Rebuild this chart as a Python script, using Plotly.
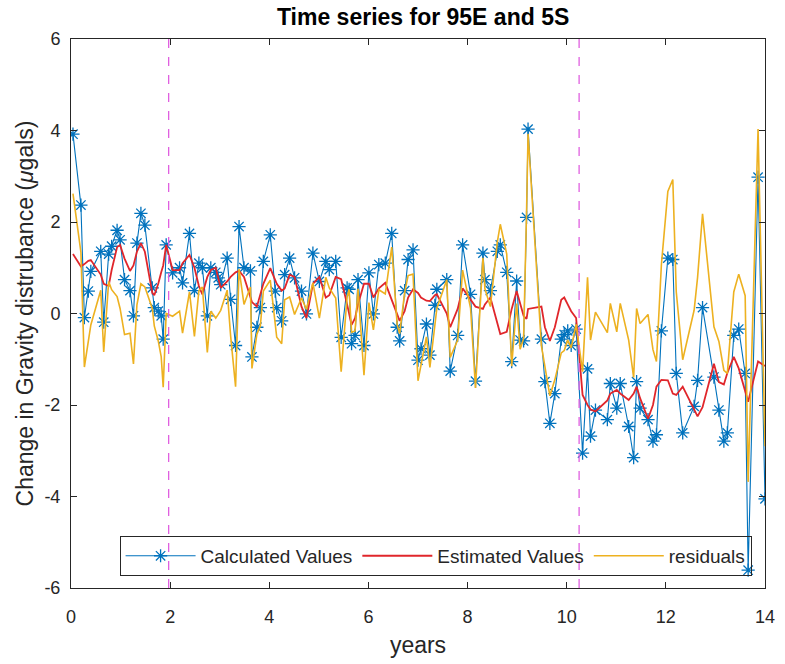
import plotly.graph_objects as go

# ---- data ----
years = [0.04, 0.20, 0.27, 0.35, 0.40, 0.60, 0.66, 0.76, 0.82, 0.93, 0.99, 1.08, 1.19, 1.26, 1.33,
         1.41, 1.49, 1.64, 1.68, 1.76, 1.82, 1.86, 1.92, 2.05, 2.19, 2.25, 2.39, 2.49, 2.58, 2.65,
         2.75, 2.82, 2.92, 2.97, 3.02, 3.15, 3.22, 3.32, 3.39, 3.49, 3.62, 3.65, 3.75, 3.82, 3.88,
         4.02, 4.12, 4.15, 4.25, 4.31, 4.41, 4.51, 4.65, 4.75, 4.88, 5.01, 5.14, 5.21, 5.34, 5.45,
         5.57, 5.61, 5.66, 5.73, 5.79, 5.91, 6.01, 6.10, 6.21, 6.34, 6.47, 6.58, 6.63, 6.73, 6.80,
         6.90, 7.00, 7.06, 7.17, 7.24, 7.34, 7.38, 7.58, 7.65, 7.80, 7.90, 8.06, 8.16, 8.31, 8.35,
         8.46, 8.60, 8.66, 8.79, 8.89, 8.99, 9.06, 9.13, 9.19, 9.22, 9.49, 9.56, 9.66, 9.76, 9.89,
         9.95, 10.02, 10.09, 10.19, 10.32, 10.42, 10.48, 10.58, 10.82, 10.88, 11.01, 11.08, 11.25, 11.35, 11.41,
         11.48, 11.64, 11.74, 11.81, 11.91, 12.04, 12.14, 12.21, 12.34, 12.57, 12.64, 12.74, 12.97, 13.07, 13.17,
         13.24, 13.37, 13.47, 13.60, 13.66, 13.86, 14.00]

calculated = [3.92, 2.37, -0.09, 0.49, 0.92, 1.36, -0.19, 1.30, 1.47, 1.82, 1.61, 0.74, 0.50, -0.05, 1.54,
              2.19, 1.93, 0.56, 0.13, 0.05, -0.05, -0.56, 1.50, 0.89, 1.00, 0.67, 1.75, 0.50, 1.10, 1.00,
              -0.05, 1.00, 0.90, 0.78, 0.63, 1.21, 0.31, -0.70, 1.90, 1.00, 0.93, -0.95, -0.30, 0.13, 1.14,
              1.72, 0.49, 0.13, -0.16, 0.85, 1.21, 0.78, 0.49, -0.01, 1.32, 0.70, 1.14, 0.96, 1.14, -0.52,
              0.56, 0.53, -0.66, -0.48, 0.74, -0.70, 0.89, -0.01, 1.07, 1.10, 1.75, -0.30, -0.60, 0.50, 1.18,
              1.39, -1.02, -0.77, -0.23, -0.91, 0.18, 0.53, 0.74, -1.26, -0.48, 1.50, 0.42, -1.48, 1.32, 0.74,
              0.50, 1.36, 1.50, 0.90, -1.05, 0.71, -0.58, -0.60, 2.10, 4.03, -0.56, -1.49, -2.40, -1.75, -0.56,
              -0.46, -0.38, -0.70, -0.34, -3.05, -1.21, -2.68, -2.11, -2.32, -1.53, -2.07, -1.53, -2.47, -3.15, -1.49,
              -2.07, -2.32, -2.79, -2.65, -0.38, 1.21, 1.18, -1.31, -2.61, -2.03, -1.46, 0.13, -1.39, -2.11, -2.79,
              -2.61, -0.48, -0.34, -1.31, -5.61, 2.98, -4.05]

estimated = [1.30, 1.03, 1.08, 1.15, 1.17, 0.85, 0.65, 0.60, 0.95, 1.45, 1.50, 1.20, 0.93, 1.05, 1.35,
             1.54, 1.35, 0.45, 0.40, 0.65, 0.90, 1.05, 1.50, 0.95, 0.95, 1.10, 1.28, 1.00, 0.60, 0.42,
             0.80, 0.95, 1.00, 0.80, 0.56, 0.70, 0.80, 0.90, 0.93, 0.80, 0.35, 0.25, 0.15, 0.40, 0.65,
             0.99, 0.75, 0.65, 0.50, 0.55, 0.85, 0.80, 0.15, -0.10, 0.65, 0.80, 0.35, 0.40, 0.80, 0.75,
             0.20, 0.00, -0.25, -0.10, 0.20, 0.65, 0.65, 0.35, 0.55, 0.67, 0.30, -0.05, -0.16, 0.05, 0.35,
             0.53, 0.45, 0.35, 0.28, 0.27, 0.40, 0.42, 0.00, -0.30, 0.10, 0.55, 0.30, 0.15, 0.10, 0.20,
             0.35, -0.20, -0.45, -0.40, 0.10, 0.49, 0.20, -0.05, -0.12, 0.10, 0.15, -0.30, -0.60, -0.30, 0.30,
             0.35, 0.20, 0.05, -0.10, -1.78, -2.00, -2.10, -2.14, -1.90, -1.75, -1.67, -1.75, -1.89, -1.75, -1.60,
             -1.85, -2.30, -2.00, -1.60, -1.45, -1.46, -1.75, -1.78, -1.60, -2.10, -2.25, -2.05, -1.10, -1.50, -1.55,
             -1.30, -0.95, -1.20, -1.70, -1.93, -1.05, -1.15]

residuals = [2.62, 1.34, -1.17, -0.66, -0.25, 0.51, -0.84, 0.70, 0.52, 0.37, 0.11, -0.46, -0.43, -1.10, 0.19,
             0.65, 0.58, 0.11, -0.27, -0.60, -0.95, -1.61, 0.00, -0.06, 0.05, -0.43, 0.47, -0.50, 0.50, 0.58,
             -0.85, 0.05, -0.10, -0.02, 0.07, 0.51, -0.49, -1.60, 0.97, 0.20, 0.58, -1.20, -0.45, -0.27, 0.49,
             0.73, -0.26, -0.52, -0.66, 0.30, 0.36, -0.02, 0.34, 0.09, 0.67, -0.10, 0.79, 0.56, 0.34, -1.27,
             0.36, 0.53, -0.41, -0.38, 0.54, -1.35, 0.24, -0.36, 0.52, 0.43, 1.45, -0.25, -0.44, 0.45, 0.83,
             0.86, -1.47, -1.12, -0.51, -1.18, -0.22, 0.11, 0.74, -0.96, -0.58, 0.95, 0.12, -1.63, 1.22, 0.54,
             0.15, 1.56, 1.95, 1.30, -1.15, 0.22, -0.78, -0.55, 2.22, 3.93, -0.71, -1.19, -1.80, -1.45, -0.86,
             -0.81, -0.58, -0.75, -0.24, -1.27, 0.79, -0.58, 0.03, -0.42, 0.22, -0.40, 0.22, -0.58, -1.40, 0.11,
             -0.22, -0.02, -0.79, -1.05, 1.07, 2.67, 2.93, 0.47, -1.01, 0.07, 0.79, 2.18, -0.29, -0.61, -1.24,
             -1.31, 0.47, 0.86, 0.39, -3.68, 4.03, -2.90]

break_years = [1.97, 10.25]
x_ticks = [0, 2, 4, 6, 8, 10, 12, 14]
x_tick_labels = ["0", "2", "4", "6", "8", "10", "12", "14"]
y_ticks = [-6, -4, -2, 0, 2, 4, 6]
y_tick_labels = ["-6", "-4", "-2", "0", "2", "4", "6"]

FONT = "Liberation Sans, Arial, Helvetica, sans-serif"
AX = "#262626"

fig = go.Figure()

fig.add_trace(go.Scatter(
    x=years, y=calculated, mode="lines+markers", name="Calculated Values",
    line=dict(color="#0072BD", width=1.1),
    marker=dict(symbol="asterisk-open", size=11, color="#0072BD",
                line=dict(color="#0072BD", width=1.3)),
))
fig.add_trace(go.Scatter(
    x=years, y=estimated, mode="lines", name="Estimated Values",
    line=dict(color="#E0262B", width=1.8),
))
fig.add_trace(go.Scatter(
    x=years, y=residuals, mode="lines", name="residuals",
    line=dict(color="#EDB120", width=1.6),
))

for bx in break_years:
    fig.add_shape(type="line", xref="x", yref="y", x0=bx, x1=bx, y0=-6, y1=6,
                  line=dict(color="#E060E0", width=1.3, dash="dash"), layer="above")

axis_common = dict(
    showline=True, linecolor=AX, linewidth=1, mirror="allticks",
    ticks="inside", ticklen=6, tickwidth=1, tickcolor=AX,
    showgrid=False, zeroline=False,
    tickfont=dict(family=FONT, size=18, color=AX),
)

fig.update_layout(
    width=785, height=664,
    margin=dict(l=71, r=10, t=39, b=71),
    paper_bgcolor="white", plot_bgcolor="white",
    font=dict(family=FONT, color=AX),
    title=dict(text="<b>Time series for 95E and 5S</b>", x=0.539, xanchor="center",
               y=0.974, yanchor="middle", yref="container",
               font=dict(family=FONT, size=23, color="black")),
    xaxis=dict(range=[0, 14], tickvals=x_ticks, ticktext=x_tick_labels, ticklabelstandoff=12,
               title=dict(text="years", font=dict(family=FONT, size=23, color=AX), standoff=11),
               **axis_common),
    yaxis=dict(range=[-6, 6], tickvals=y_ticks, ticktext=y_tick_labels, ticklabelstandoff=6,
               title=dict(text="Change in Gravity distrubance (<i>μ</i>gals)",
                          font=dict(family=FONT, size=23, color=AX), standoff=4),
               **axis_common),
    legend=dict(orientation="h", x=0.07, xanchor="left", y=0.022, yanchor="bottom",
                bgcolor="rgba(255,255,255,0)", bordercolor="#262626", borderwidth=1,
                font=dict(family=FONT, size=19, color="#262626"),
                itemwidth=70, tracegroupgap=0),
    showlegend=True,
)

fig.write_html("out.html")
